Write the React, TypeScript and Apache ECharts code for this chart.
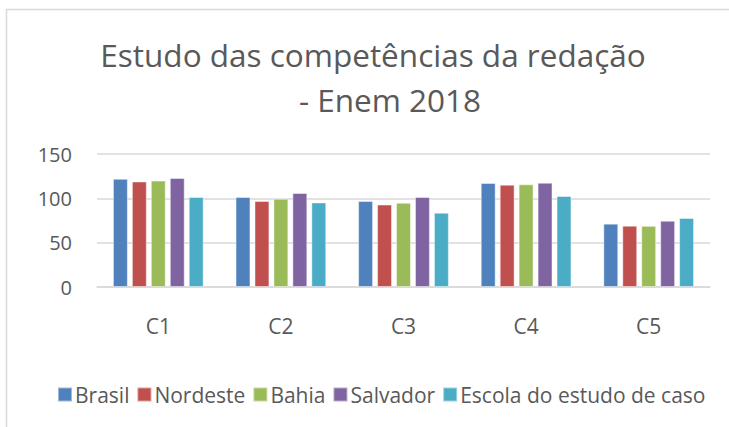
import React, { useEffect, useRef } from "react";
import * as echarts from "echarts";

const categories = ["C1", "C2", "C3", "C4", "C5"];
const seriesNames = ["Brasil", "Nordeste", "Bahia", "Salvador", "Escola do estudo de caso"];
const brasil = [122, 101.5, 97, 117.3, 71.4];
const nordeste = [119, 97, 93, 115.4, 69.1];
const bahia = [120, 99.6, 95, 115.8, 69];
const salvador = [123, 106, 101.5, 117.6, 74.8];
const escola = [101.5, 95.4, 83.8, 102.6, 77.8];
const colors = ["#4F81BD", "#C0504D", "#9BBB59", "#8064A2", "#4BACC6"];

const FONT = "'Open Sans', sans-serif";

export default function App() {
  const ref = useRef<HTMLDivElement>(null);
  useEffect(() => {
    if (!ref.current) return;
    const chart = echarts.init(ref.current, undefined, { renderer: "svg" });
    const values = [brasil, nordeste, bahia, salvador, escola];
    chart.setOption({
      animation: false,
      backgroundColor: "#ffffff",
      title: [
        {
          text: "Estudo das competências da redação",
          left: 368,
          top: 33,
          textAlign: "center",
          textStyle: { fontFamily: FONT, fontSize: 31.5, fontWeight: "normal", color: "#595959" },
        },
        {
          text: "- Enem 2018",
          left: 385,
          top: 78,
          textAlign: "center",
          textStyle: { fontFamily: FONT, fontSize: 31.5, fontWeight: "normal", color: "#595959" },
        },
      ],
      graphic: [
        {
          type: "rect",
          shape: { x: 6.5, y: 9.5, width: 800, height: 600 },
          style: { fill: "none", stroke: "#D9D9D9", lineWidth: 1.5 },
          silent: true,
        },
      ],
      legend: {
        data: seriesNames,
        left: 52,
        top: 379,
        itemWidth: 14,
        itemHeight: 14,
        itemGap: 7,
        icon: "rect",
        textStyle: { fontFamily: FONT, fontSize: 21, color: "#595959", padding: [0, 0, 0, -2] },
      },
      grid: { left: 97, right: 19, top: 154, bottom: 140, containLabel: false },
      xAxis: {
        type: "category",
        data: categories,
        axisLine: { lineStyle: { color: "#D9D9D9", width: 1.5 } },
        axisTick: { show: false },
        axisLabel: { fontFamily: FONT, fontSize: 21, color: "#595959", margin: 28 },
      },
      yAxis: {
        type: "value",
        min: 0,
        max: 150,
        interval: 50,
        axisLine: { show: false },
        axisTick: { show: false },
        splitLine: { lineStyle: { color: "#D9D9D9", width: 1.5 } },
        axisLabel: { fontFamily: FONT, fontSize: 20, color: "#595959", margin: 25 },
      },
      series: seriesNames.map((name, i) => ({
        name,
        type: "bar",
        data: values[i],
        barGap: "27%",
        barCategoryGap: "26%",
        itemStyle: { color: colors[i], borderColor: "rgba(255,255,255,0.45)", borderWidth: 1 },
      })),
    });
    return () => chart.dispose();
  }, []);
  return (
    <div
      ref={ref}
      style={{ position: "absolute", left: 0, top: 0, width: 729, height: 427 }}
    />
  );
}
